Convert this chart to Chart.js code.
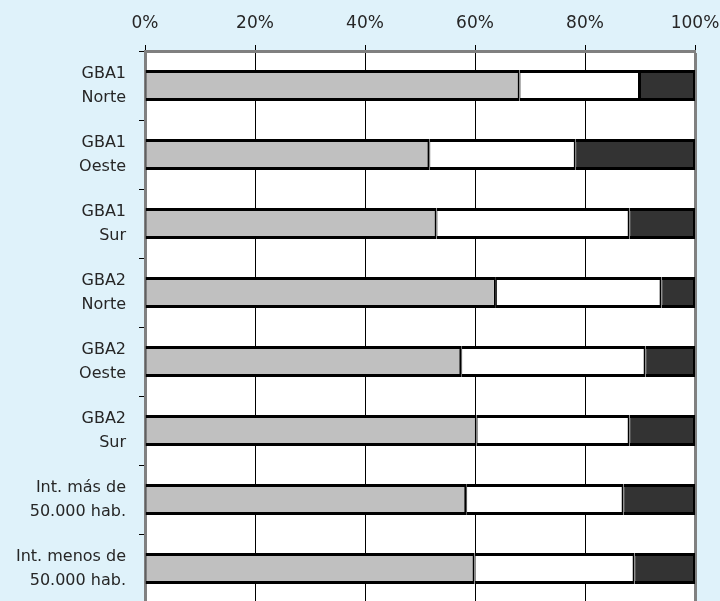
<!DOCTYPE html>
<html lang="es">
<head>
<meta charset="utf-8">
<title>Distribución por región</title>
<script src="https://cdn.jsdelivr.net/npm/chart.js@4.4.1/dist/chart.umd.min.js"></script>
<style>
    html, body {
        margin: 0;
        padding: 0;
        background: #dff2fa;
        overflow: hidden;
    }
    #chart-wrap {
        position: relative;
        width: 720px;
        height: 603px;
    }
</style>
</head>
<body>
<div id="chart-wrap">
    <canvas id="regionChart"></canvas>
</div>
<script>
// Datos (porcentajes por región)
const categories = [
    ['GBA1', 'Norte'],
    ['GBA1', 'Oeste'],
    ['GBA1', 'Sur'],
    ['GBA2', 'Norte'],
    ['GBA2', 'Oeste'],
    ['GBA2', 'Sur'],
    ['Int. más de', '50.000 hab.'],
    ['Int. menos de', '50.000 hab.']
];
const seriesNames = ['Serie 1', 'Serie 2', 'Serie 3'];
const grayValues = [68.1, 51.7, 53.0, 63.8, 57.5, 60.3, 58.4, 59.9];
const whiteValues = [21.9, 26.6, 35.1, 30.1, 33.5, 27.8, 28.6, 29.1];
const darkValues = [10.0, 21.7, 11.9, 6.1, 9.0, 11.9, 13.0, 11.0];
const tickValues = [0, 20, 40, 60, 80, 100];

const FONT = "'DejaVu Sans', Verdana, sans-serif";
const TEXT_COLOR = '#262626';
const FRAME_COLOR = '#808080';

// White plot area behind the bars
const plotBackground = {
    id: 'plotBackground',
    beforeDraw(chart) {
        const { ctx, chartArea } = chart;
        ctx.save();
        ctx.fillStyle = '#ffffff';
        ctx.fillRect(chartArea.left, chartArea.top,
            chartArea.right - chartArea.left, chartArea.bottom - chartArea.top);
        ctx.restore();
    }
};

function barDataset(label, data, color) {
    return {
        label: label,
        data: data,
        backgroundColor: color,
        borderColor: '#000000',
        borderWidth: { top: 3, bottom: 3, left: 1, right: 2 },
        borderSkipped: false,
        barPercentage: 0.9,
        categoryPercentage: 0.5
    };
}

const ctx = document.getElementById('regionChart');

new Chart(ctx, {
    type: 'bar',
    data: {
        labels: categories,
        datasets: [
            barDataset(seriesNames[0], grayValues, '#c0c0c0'),
            barDataset(seriesNames[1], whiteValues, '#ffffff'),
            barDataset(seriesNames[2], darkValues, '#333333')
        ]
    },
    options: {
        indexAxis: 'y',
        responsive: true,
        maintainAspectRatio: false,
        animation: false,
        layout: {
            padding: { top: 0, right: 25, bottom: 0, left: 0 }
        },
        plugins: {
            legend: { display: false },
            tooltip: { enabled: false }
        },
        scales: {
            x: {
                position: 'top',
                stacked: true,
                min: 0,
                max: 100,
                afterBuildTicks(scale) {
                    scale.ticks = tickValues.map(v => ({ value: v }));
                },
                afterFit(scale) {
                    // fixed axis band, no extra room for the end labels
                    scale.height = 51;
                    scale.paddingLeft = 0;
                    scale.paddingRight = 0;
                },
                ticks: {
                    padding: 11,
                    color: TEXT_COLOR,
                    font: { family: FONT, size: 17 },
                    callback: value => value + '%'
                },
                grid: {
                    color: c => (c.tick && c.tick.value === 100) ? FRAME_COLOR : '#000000',
                    lineWidth: c => (c.tick && c.tick.value === 100) ? 3 : 1,
                    tickColor: '#000000',
                    tickWidth: 1,
                    tickLength: 6
                },
                border: { color: FRAME_COLOR, width: 3 }
            },
            y: {
                stacked: true,
                afterFit(scale) {
                    scale.width = 145;
                    scale.paddingTop = 0;
                    scale.paddingBottom = 0;
                },
                ticks: {
                    padding: 13,
                    color: TEXT_COLOR,
                    font: { family: FONT, size: 16, lineHeight: 1.5 }
                },
                grid: {
                    offset: true,
                    drawOnChartArea: false,
                    color: '#000000',
                    tickLength: 6
                },
                border: { color: FRAME_COLOR, width: 3 }
            }
        }
    },
    plugins: [plotBackground]
});
</script>
</body>
</html>
